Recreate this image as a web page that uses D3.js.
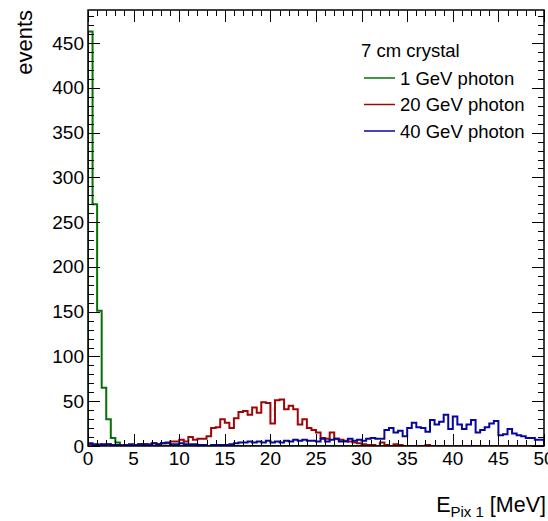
<!DOCTYPE html>
<html>
<head>
<meta charset="utf-8">
<script src="https://cdn.jsdelivr.net/npm/d3@7"></script>
<style>
html,body{margin:0;padding:0;background:#fff;}
svg{display:block;}
text{font-family:"Liberation Sans",Arial,Helvetica,sans-serif;fill:#000;}
</style>
</head>
<body>
<svg id="chart" width="548" height="521"></svg>
<script>
// ---- data ----
const binWidth = 0.5;           // MeV
const xDomain = [0, 50];
const yDomain = [0, 487];
const xTickLabels = [0,5,10,15,20,25,30,35,40,45,50];
const yTickLabels = [0,50,100,150,200,250,300,350,400,450];
const seriesNames = ["1 GeV photon","20 GeV photon","40 GeV photon"];
const seriesColors = ["#067206","#a00606","#0606a0"];
const legendTitle = "7 cm crystal";

const green1GeV = [463,270,151,65,30,9,4,1,1,0,
  0,0,0,0,0,0,0,0,0,0, 0,0,0,0,0,0,0,0,0,0,
  0,0,0,0,0,0,0,0,0,0, 0,0,0,0,0,0,0,0,0,0,
  0,0,0,0,0,0,0,0,0,0, 0,0,0,0,0,0,0,0,0,0,
  0,0,0,0,0,0,0,0,0,0, 0,0,0,0,0,0,0,0,0,0,
  0,0,0,0,0,0,0,0,0,0];
const red20GeV = [2,1,2,1,2,1,1,1,0,1,
  1,2,2,2,3,2,3,3,5,5,
  7,5,10,7,8,8,11,20,21,30,
  26,20,31,38,39,35,43,37,49,48,
  25,51,52,41,45,41,24,30,20,18,
  15,9,8,15,8,7,6,5,4,3,
  2,1,1,0,4,1,0,2,1,0,
  0,0,0,0,1,0,0,0,0,0,
  0,0,0,0,0,0,0,0,0,0,
  0,0,0,0,0,0,0,0,0,0];
const blue40GeV = [3,2,1,2,2,1,1,0,1,2,
  1,2,2,1,3,2,3,4,2,2,
  3,2,2,2,1,1,0,1,1,1,
  1,2,3,4,4,5,4,5,4,6,
  4,5,4,6,5,7,6,7,6,6,
  5,8,5,7,8,5,5,8,6,7,
  6,8,9,8,8,18,20,15,17,11,
  20,26,21,20,16,29,24,27,35,19,
  33,24,19,24,29,15,18,21,25,28,
  12,13,19,14,12,11,9,9,7,7];
const seriesData = [green1GeV, red20GeV, blue40GeV];

// ---- layout ----
const svg = d3.select("#chart");
const frame = {left:88, top:10, right:544, bottom:446};
const x = d3.scaleLinear().domain(xDomain).range([frame.left, frame.right]);
const y = d3.scaleLinear().domain(yDomain).range([frame.bottom, frame.top]);

svg.append("defs").append("clipPath").attr("id","clip")
  .append("rect").attr("x",frame.left).attr("y",frame.top)
  .attr("width",frame.right-frame.left).attr("height",frame.bottom-frame.top);

// histograms
const plot = svg.append("g").attr("clip-path","url(#clip)");
seriesData.forEach((vals,k)=>{
  let p = d3.path();
  p.moveTo(x(0), y(0));
  vals.forEach((v,i)=>{
    p.lineTo(x(i*binWidth), y(v));
    p.lineTo(x((i+1)*binWidth), y(v));
  });
  p.lineTo(x(vals.length*binWidth), y(0));
  plot.append("path").attr("d",p.toString())
    .attr("fill","none").attr("stroke",seriesColors[k]).attr("stroke-width",2)
    .attr("stroke-linejoin","miter");
});

// ticks
const axes = svg.append("g").attr("stroke","#000").attr("stroke-width",1);
const xMinor = d3.range(xDomain[0], xDomain[1]+0.001, 1);
xMinor.forEach(v=>{
  const major = xTickLabels.includes(v);
  const len = major ? 12 : 6;
  const px = Math.round(x(v))+0.5;
  axes.append("line").attr("x1",px).attr("x2",px).attr("y1",frame.bottom).attr("y2",frame.bottom-len);
  axes.append("line").attr("x1",px).attr("x2",px).attr("y1",frame.top).attr("y2",frame.top+len);
});
const yMinor = d3.range(0, yDomain[1], 10);
yMinor.forEach(v=>{
  const major = yTickLabels.includes(v);
  const len = major ? 12 : 6;
  const py = Math.round(y(v))+0.5;
  axes.append("line").attr("x1",frame.left).attr("x2",frame.left+len).attr("y1",py).attr("y2",py);
  axes.append("line").attr("x1",frame.right).attr("x2",frame.right-len).attr("y1",py).attr("y2",py);
});
// frame
svg.append("rect").attr("x",frame.left).attr("y",frame.top)
  .attr("width",frame.right-frame.left).attr("height",frame.bottom-frame.top)
  .attr("fill","none").attr("stroke","#000").attr("stroke-width",1.5);

// tick labels
const fs = 19;
svg.append("g").selectAll("text").data(xTickLabels).join("text")
  .attr("x",d=>x(d)).attr("y",465).attr("text-anchor","middle")
  .attr("font-size",fs).text(d=>d);
svg.append("g").selectAll("text").data(yTickLabels).join("text")
  .attr("x",84).attr("y",d=>y(d)+6.5).attr("text-anchor","end")
  .attr("font-size",fs).text(d=>d);

// axis titles
svg.append("text").attr("transform","translate(32,10) rotate(-90)")
  .attr("text-anchor","end").attr("font-size",22).text("events");
const xt = svg.append("text").attr("x",546).attr("y",512).attr("text-anchor","end").attr("font-size",21.5);
xt.append("tspan").text("E");
xt.append("tspan").attr("font-size",15).attr("dy",5).text("Pix 1");
xt.append("tspan").attr("dy",-5).text(" [MeV]");

// legend
const lg = svg.append("g");
lg.append("text").attr("x",361).attr("y",57).attr("font-size",18.5).text(legendTitle);
seriesNames.forEach((n,k)=>{
  const cy = 78 + k*26.5;
  lg.append("line").attr("x1",364).attr("x2",395).attr("y1",cy).attr("y2",cy)
    .attr("stroke",seriesColors[k]).attr("stroke-width",1.5);
  lg.append("text").attr("x",400).attr("y",cy+6.5).attr("font-size",18.5).text(n);
});
</script>
</body>
</html>
